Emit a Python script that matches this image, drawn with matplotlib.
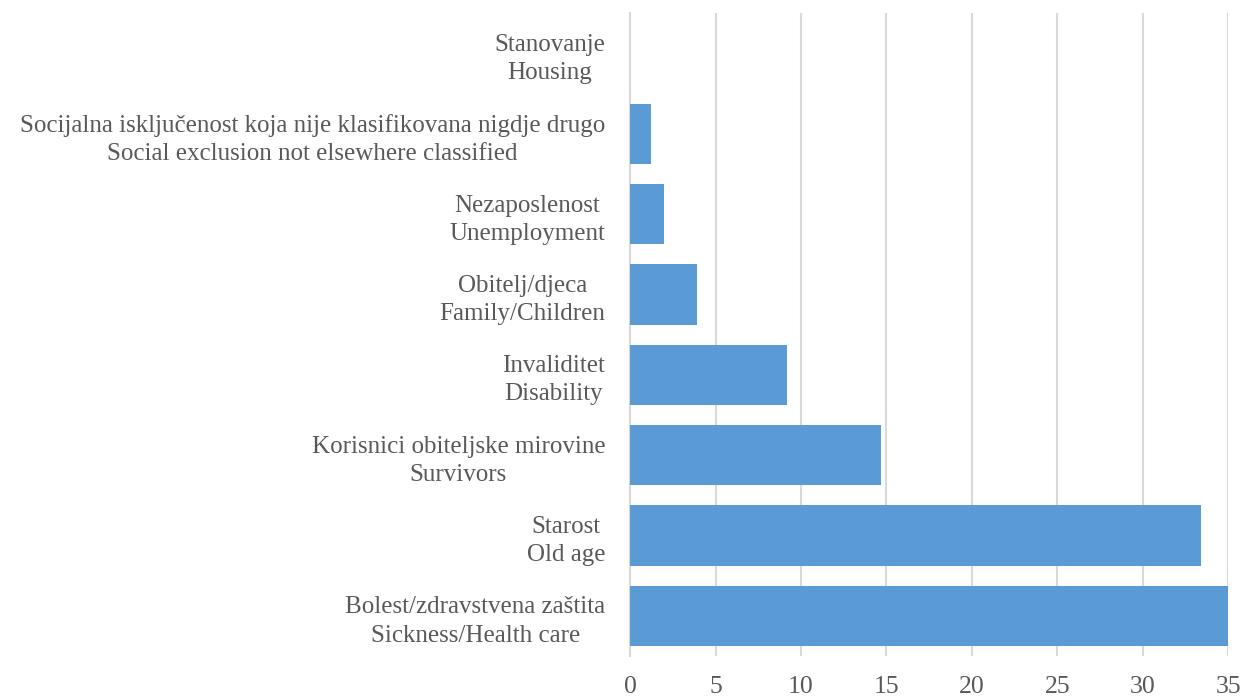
import matplotlib
matplotlib.use("Agg")
import matplotlib.pyplot as plt

categories = [
    "Bolest/zdravstvena zaštita\nSickness/Health care",
    "Starost\nOld age",
    "Korisnici obiteljske mirovine\nSurvivors",
    "Invaliditet\nDisability",
    "Obitelj/djeca\nFamily/Children",
    "Nezaposlenost\nUnemployment",
    "Socijalna isključenost koja nije klasifikovana nigdje drugo\nSocial exclusion not elsewhere classified",
    "Stanovanje\nHousing",
]
values = [35.1, 33.4, 14.7, 9.15, 3.9, 2.0, 1.2, 0.0]
xticks = [0, 5, 10, 15, 20, 25, 30, 35]

plt.rcParams['font.family'] = ['Liberation Serif', 'DejaVu Serif']
fig = plt.figure(figsize=(12.43, 6.98), dpi=100)
ax = fig.add_axes([0.507, 0.060, 0.481, 0.921])

y = list(range(len(categories)))
ax.barh(y, values, height=0.75, color='#5B9BD5', zorder=3)
ax.set_xlim(0, 35)
ax.set_ylim(-0.5, len(categories) - 0.5)
ax.set_xticks(xticks)
ax.set_xticklabels([str(t) for t in xticks])
ax.set_yticks(y)
ax.set_yticklabels(categories)
for lbl in ax.get_yticklabels():
    lbl.set_multialignment('center')
    lbl.set_linespacing(1.36)
    lbl.set_fontsize(18)
for lbl in ax.get_xticklabels():
    lbl.set_fontsize(18.5)
ax.tick_params(axis='both', length=0, labelcolor='#595959')
ax.tick_params(axis='y', pad=18)
ax.tick_params(axis='x', pad=14)
ax.xaxis.grid(True, color='#D9D9D9', linewidth=1.5, zorder=0)
for s in ['top', 'right', 'bottom']:
    ax.spines[s].set_visible(False)
ax.spines['left'].set_color('#D9D9D9')
ax.spines['left'].set_linewidth(1.5)

fig.savefig('out.png', dpi=100)
